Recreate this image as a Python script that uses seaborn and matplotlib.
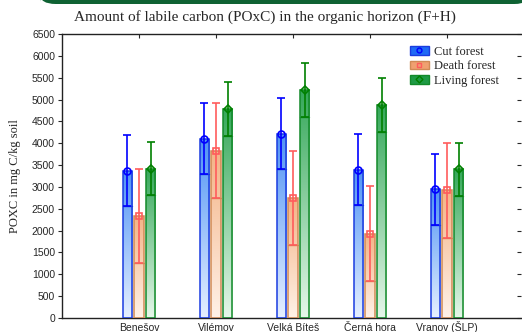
import numpy as np
import pandas as pd
import matplotlib
matplotlib.use("Agg")
import matplotlib.pyplot as plt
import seaborn as sns
from matplotlib.patches import Patch, FancyBboxPatch
from matplotlib.lines import Line2D
from matplotlib.colors import LinearSegmentedColormap
import matplotlib.transforms as mtransforms

sites = ["Benešov", "Vilémov", "Velká Bíteš", "Černá hora", "Vranov (ŠLP)"]
series = ["Cut forest", "Death forest", "Living forest"]
cut_mean = [3370, 4100, 4220, 3390, 2945]
death_mean = [2340, 3830, 2740, 1930, 2920]
living_mean = [3420, 4790, 5210, 4880, 3400]
cut_err = [815, 815, 815, 815, 815]
death_err = [1080, 1080, 1080, 1080, 1080]
living_err = [615, 615, 615, 615, 615]
yticks = list(range(0, 6501, 500))

means = {"Cut forest": cut_mean, "Death forest": death_mean, "Living forest": living_mean}
errs = {"Cut forest": cut_err, "Death forest": death_err, "Living forest": living_err}

df = pd.DataFrame([(s, h, means[h][i], errs[h][i])
                   for h in series for i, s in enumerate(sites)],
                  columns=["site", "forest", "poxc", "err"])

edge = {"Cut forest": "#1a3ce0", "Death forest": "#d08a55", "Living forest": "#138a2a"}
ftop = {"Cut forest": "#4f93f5", "Death forest": "#f4b386", "Living forest": "#35a85a"}
fbot = {"Cut forest": "#e6f0ff", "Death forest": "#fff2e8", "Living forest": "#e6f7ea"}
ecol = {"Cut forest": "#0000ff", "Death forest": "#ff5c5c", "Living forest": "#008000"}
lcol = {"Cut forest": "#1f6af5", "Death forest": "#f0a070", "Living forest": "#1e9a45"}
mk = {"Cut forest": "o", "Death forest": "s", "Living forest": "D"}
mks = {"Cut forest": 5, "Death forest": 5, "Living forest": 4}

sns.set_style("white")
plt.rcParams["font.family"] = ["Liberation Sans", "DejaVu Sans"]

W, H = 522, 332
fig = plt.figure(figsize=(W / 100, H / 100), dpi=100)
ax = fig.add_axes([62 / W, 14 / H, (521 - 62) / W, (318 - 34) / H])

sns.barplot(data=df, x="site", y="poxc", hue="forest", hue_order=series, order=sites,
            errorbar=None, width=0.45, gap=0.22, ax=ax, legend=False,
            palette=[ftop[h] for h in series])

grad = np.linspace(0, 1, 256).reshape(-1, 1)
patches = list(ax.patches)
k = 0
for h in series:
    cmap = LinearSegmentedColormap.from_list(h, [fbot[h], ftop[h]])
    for i in range(len(sites)):
        p = patches[k]; k += 1
        x0, w = p.get_x(), p.get_width()
        top = p.get_height()
        xc = x0 + w / 2
        p.set_facecolor("none")
        p.set_edgecolor(edge[h])
        p.set_linewidth(1.1)
        p.set_zorder(3)
        im = ax.imshow(grad, extent=[x0, x0 + w, 0, top], origin="lower", aspect="auto",
                       cmap=cmap, zorder=2, interpolation="bilinear")
        im.set_clip_path(p)
        e = errs[h][i]
        lo = top - e
        ax.plot([x0, x0 + w], [lo, lo], color=edge[h], lw=1.0, zorder=4)
        ax.errorbar(xc, top, yerr=e, color=ecol[h], lw=1.2, capsize=3.2, capthick=1.2, zorder=5)
        ax.plot(xc, top, marker=mk[h], ms=mks[h], mfc="none", mec=ecol[h], mew=1.2, zorder=6)

ax.set_xlim(-1, (521 - 62) / 77 - 1)
ax.set_ylim(0, 6500)
ax.set_yticks(yticks)
ax.set_yticklabels([str(t) for t in yticks], fontsize=7.5)
ax.yaxis.set_ticks_position("both")
ax.tick_params(axis="y", direction="out", length=3, width=0.8, pad=2)
for t in ax.yaxis.get_major_ticks():
    t.tick2line.set_marker(matplotlib.markers.TICKLEFT)
ax.tick_params(axis="x", top=True, bottom=False, direction="in", length=3, width=0.8,
               labelsize=7.5, pad=0)
ax.set_xticks(range(len(sites)))
ax.set_xticklabels(sites)
# place x tick labels on a common baseline
off = mtransforms.ScaledTranslation(0, -13 / 100, fig.dpi_scale_trans)
for lab in ax.get_xticklabels():
    lab.set_verticalalignment("baseline")
    lab.set_transform(ax.get_xaxis_transform() + off)
    lab.set_y(0)
ax.set_xlabel("")
ax.set_ylabel("")
for s in ["left", "bottom", "top"]:
    ax.spines[s].set_color("#222222")
    ax.spines[s].set_linewidth(1.0)
ax.spines["right"].set_visible(False)

fig.text(265 / W, 1 - 17 / H, "Amount of labile carbon (POxC) in the organic horizon (F+H)",
         ha="center", va="center", fontsize=11, family="Liberation Serif")
fig.text(15 / W, 1 - 176 / H, "POXC in mg C/kg soil", rotation=90, ha="center", va="center",
         fontsize=9, family="Liberation Serif")

handles = []
for h in series:
    handles.append((Patch(facecolor=lcol[h], edgecolor=edge[h], lw=1),
                    Line2D([], [], ls="none", marker=mk[h], ms=3.5, mfc="none", mec=ecol[h], mew=1)))
leg = ax.legend(handles, series, loc="upper right", bbox_to_anchor=(508 / W, 1 - 37 / H),
                bbox_transform=fig.transFigure, frameon=False,
                prop={"family": "Liberation Serif", "size": 9}, handlelength=1.5, handleheight=0.7,
                labelspacing=0.2, handletextpad=0.45, borderpad=0.2)

band = FancyBboxPatch((40 / W, 1 - 4 / H), 490 / W, 12 / H, boxstyle="round,pad=0,rounding_size=0.03",
                      transform=fig.transFigure, facecolor="#0f6233", edgecolor="none", clip_on=False)
fig.patches.append(band)

fig.savefig("out.png", dpi=100)
